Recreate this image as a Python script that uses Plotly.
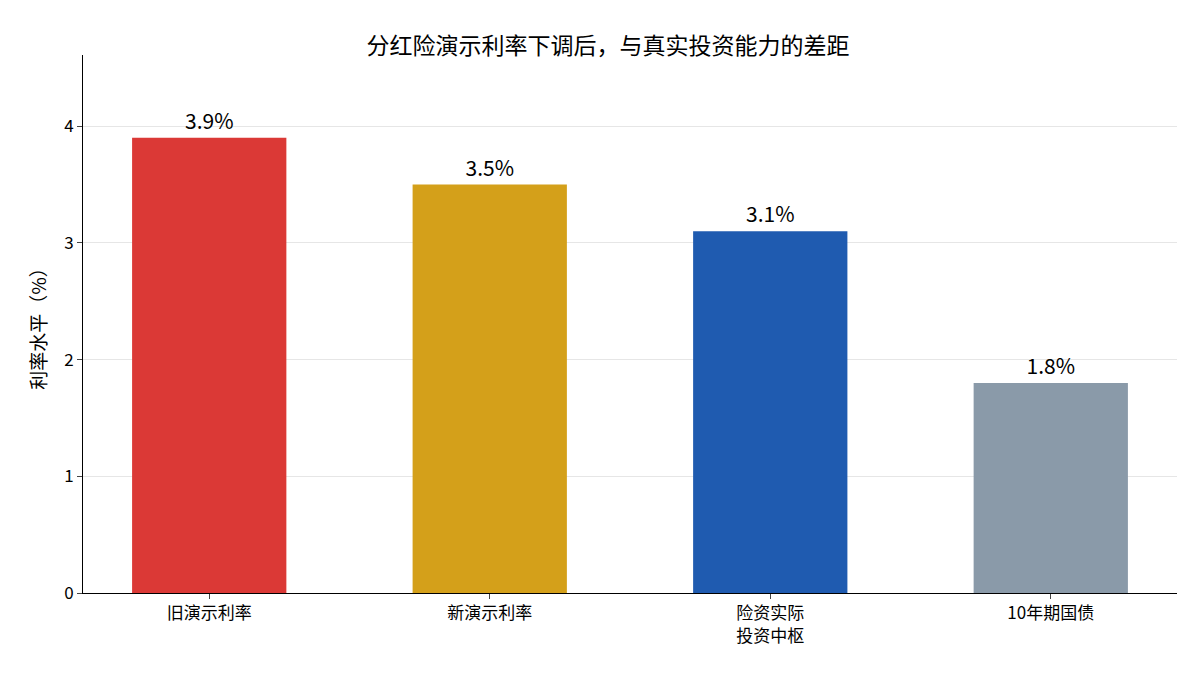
import plotly.graph_objects as go

categories = ["旧演示利率", "新演示利率", "险资实际<br>投资中枢", "10年期国债"]
values = [3.9, 3.5, 3.1, 1.8]
labels = ["3.9%", "3.5%", "3.1%", "1.8%"]
colors = ["#DB3936", "#D4A01A", "#1F5BB0", "#8A9AA9"]

fig = go.Figure(go.Bar(
    x=categories, y=values, text=labels, textposition="outside",
    marker_color=colors, marker_line_width=0, width=0.55,
    textfont=dict(size=21, color="black"), cliponaxis=False,
))
fig.update_layout(
    width=1200, height=675,
    font=dict(family="Noto Sans CJK SC", size=17, color="black"),
    title=dict(text="分红险演示利率下调后，与真实投资能力的差距", x=0.5, y=0.955, xanchor="center", font=dict(size=23)),
    plot_bgcolor="white", paper_bgcolor="white",
    margin=dict(l=75, r=31, t=47, b=90),
    showlegend=False,
)
fig.update_yaxes(range=[0, 4.61], tickvals=[0, 1, 2, 3, 4], showgrid=True, gridcolor="#E6E6E6",
                 showline=True, linecolor="black", ticks="outside", ticklen=5,
                 title=dict(text="利率水平（%）", font=dict(size=19), standoff=12), zeroline=False)
fig.update_xaxes(showline=True, linecolor="black", ticks="outside", ticklen=5,
                 range=[-0.45, 3.45])
fig.write_html("out.html")
